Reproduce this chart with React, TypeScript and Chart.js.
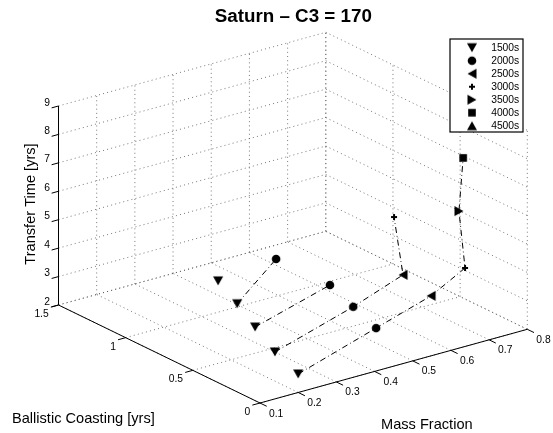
import React, { useEffect, useRef } from "react";
import { Chart, registerables } from "chart.js";

Chart.register(...registerables);

const FONT = '"Liberation Sans", Arial, sans-serif';

// Data: mass fraction, ballistic coasting [yrs], transfer time [yrs] by burn length
const burnLabels = ["1500s", "2000s", "2500s", "3000s", "3500s", "4000s", "4500s"];
const mass1500 = [0.2, 0.227, 0.263, 0.304, 0.342];
const coast1500 = [0, 0.25, 0.5, 0.75, 1];
const time1500 = [2.65, 2.75, 2.92, 3.01, 3.1];
const mass2000 = [0.404, 0.432, 0.459, 0.406];
const coast2000 = [0, 0.25, 0.5, 0.75];
const time2000 = [3.51, 3.58, 3.67, 4.21];
const mass2500 = [0.548, 0.5625];
const coast2500 = [0, 0.25];
const time2500 = [4.11, 4.22];
const mass3000 = [0.637, 0.539];
const coast3000 = [0, 0.25];
const time3000 = [4.76, 6.34];
const mass3500 = [0.621];
const coast3500 = [0];
const time3500 = [6.82];
const mass4000 = [0.632];
const coast4000 = [0];
const time4000 = [8.65];
const mass4500: number[] = [];
const coast4500: number[] = [];
const time4500: number[] = [];

// Axis ticks
const massTicks = [0.1, 0.2, 0.3, 0.4, 0.5, 0.6, 0.7, 0.8];
const coastTicks = [0, 0.5, 1, 1.5];
const timeTicks = [2, 3, 4, 5, 6, 7, 8, 9];
const coastTickLabels = ["0", "0.5", "1", "1.5"];

// Orthographic view of the 3-D box, in canvas units
const project = (x: number, y: number, z: number) => {
  const t = (x - 0.1) / 0.7;
  const k = y / 1.5;
  return {
    x: 260 + t * 267.3 - k * 201.5,
    y: 403 - t * 73.7 - k * 98 - (z - 2) * 28.43,
  };
};

const makeMarker = (kind: string) => {
  const c = document.createElement("canvas");
  c.width = 14;
  c.height = 14;
  const g = c.getContext("2d")!;
  g.fillStyle = "#000";
  g.strokeStyle = "#000";
  const poly = (pts: number[][]) => {
    g.beginPath();
    pts.forEach(([a, b], i) => (i ? g.lineTo(a, b) : g.moveTo(a, b)));
    g.closePath();
    g.fill();
  };
  if (kind === "down") poly([[2, 2.5], [12, 2.5], [7, 11.5]]);
  if (kind === "up") poly([[2, 11.5], [12, 11.5], [7, 2.5]]);
  if (kind === "left") poly([[11.5, 2], [11.5, 12], [2.5, 7]]);
  if (kind === "right") poly([[2.5, 2], [2.5, 12], [11.5, 7]]);
  if (kind === "square") g.fillRect(3.2, 3.2, 7.6, 7.6);
  if (kind === "circle") {
    g.beginPath();
    g.arc(7, 7, 4.3, 0, Math.PI * 2);
    g.fill();
  }
  if (kind === "plus") {
    g.fillRect(4, 6, 6, 2);
    g.fillRect(6, 4, 2, 6);
  }
  return c;
};

const seg = (a: number[], b: number[]) => [
  project(a[0], a[1], a[2]),
  project(b[0], b[1], b[2]),
];

export default function App() {
  const ref = useRef<HTMLCanvasElement>(null);

  useEffect(() => {
    document.body.style.margin = "0";
    const series = [
      { m: mass1500, c: coast1500, t: time1500, s: "down" },
      { m: mass2000, c: coast2000, t: time2000, s: "circle" },
      { m: mass2500, c: coast2500, t: time2500, s: "left" },
      { m: mass3000, c: coast3000, t: time3000, s: "plus" },
      { m: mass3500, c: coast3500, t: time3500, s: "right" },
      { m: mass4000, c: coast4000, t: time4000, s: "square" },
      { m: mass4500, c: coast4500, t: time4500, s: "up" },
    ];

    const markerSets = series.map((s, i) => ({
      label: burnLabels[i],
      data: s.m.map((m, j) => project(m, s.c[j], s.t[j])),
      showLine: false,
      pointStyle: makeMarker(s.s),
      pointRadius: 6,
      order: 0,
    }));

    const lineSets = [0, 0.25, 0.5, 0.75].map((level) => {
      const pts: { x: number; y: number }[] = [];
      series.forEach((s) =>
        s.c.forEach((c, j) => {
          if (c === level) pts.push(project(s.m[j], c, s.t[j]));
        })
      );
      return {
        label: "",
        data: pts,
        showLine: true,
        pointRadius: 0,
        borderColor: "#000",
        borderWidth: 1,
        borderDash: [6, 3, 0.8, 3],
        order: 1,
      };
    });

    const xMax = massTicks[massTicks.length - 1];
    const xMin = massTicks[0];
    const yMax = coastTicks[coastTicks.length - 1];
    const zMin = timeTicks[0];
    const zMax = timeTicks[timeTicks.length - 1];

    const gridSegs: { x: number; y: number }[][] = [];
    massTicks.forEach((m) => {
      gridSegs.push(seg([m, 0, zMin], [m, yMax, zMin]));
      gridSegs.push(seg([m, yMax, zMin], [m, yMax, zMax]));
    });
    coastTicks.forEach((c) => {
      gridSegs.push(seg([xMin, c, zMin], [xMax, c, zMin]));
      gridSegs.push(seg([xMax, c, zMin], [xMax, c, zMax]));
    });
    timeTicks.forEach((t) => {
      gridSegs.push(seg([xMin, yMax, t], [xMax, yMax, t]));
      gridSegs.push(seg([xMax, yMax, t], [xMax, 0, t]));
    });
    const gridSets = gridSegs.map((d) => ({
      label: "",
      data: d,
      showLine: true,
      pointRadius: 0,
      borderColor: "#555",
      borderWidth: 0.8,
      borderDash: [1, 3.2],
      order: 3,
    }));

    const axisSegs: { x: number; y: number }[][] = [
      seg([xMin, 0, zMin], [xMax, 0, zMin]),
      seg([xMin, 0, zMin], [xMin, yMax, zMin]),
      seg([xMin, yMax, zMin], [xMin, yMax, zMax]),
    ];
    massTicks.forEach((m) => axisSegs.push(seg([m, 0, zMin], [m, -0.05, zMin])));
    coastTicks.forEach((c) => axisSegs.push(seg([xMin, c, zMin], [xMin - 0.02, c, zMin])));
    timeTicks.forEach((t) => axisSegs.push(seg([xMin, yMax, t], [xMin - 0.018, yMax, t])));
    const axisSets = axisSegs.map((d) => ({
      label: "",
      data: d,
      showLine: true,
      pointRadius: 0,
      borderColor: "#000",
      borderWidth: 1,
      order: 2,
    }));

    const textPlugin = {
      id: "boxText",
      afterLayout(chart: any) {
        const l = chart.legend;
        if (l) {
          l.left = 455.3;
          l.right = 523;
          l.top = 39.85;
          l.bottom = 433;
        }
      },
      afterDatasetsDraw(chart: any) {
        const g = chart.ctx;
        g.save();
        // Legend box sits above the grid
        g.fillStyle = "#fff";
        g.fillRect(450, 39, 73, 93);
        g.strokeStyle = "#000";
        g.lineWidth = 1.2;
        g.strokeRect(450, 39, 73, 93);
        chart.legend.draw(chart.chartArea);

        g.fillStyle = "#000";
        g.textBaseline = "middle";
        g.font = `10.3px ${FONT}`;
        g.textAlign = "left";
        massTicks.forEach((m) => {
          const p = project(m, 0, zMin);
          g.fillText(m.toFixed(1), p.x + 9, p.y + 10.7);
        });
        g.textAlign = "right";
        coastTicks.forEach((c, i) => {
          const p = project(xMin, c, zMin);
          g.fillText(coastTickLabels[i], p.x - 9.8, p.y + 9.3);
        });
        g.textAlign = "center";
        timeTicks.forEach((t) => {
          const p = project(xMin, yMax, t);
          g.fillText(String(t), 47, p.y - 3.3);
        });

        g.font = `bold 18.8px ${FONT}`;
        g.fillText("Saturn \u2013 C3 = 170", 293.3, 16.7);
        g.font = `14.6px ${FONT}`;
        g.textAlign = "left";
        g.fillText("Ballistic Coasting [yrs]", 12, 419);
        g.fillText("Mass Fraction", 381, 424.7);
        g.translate(31, 204);
        g.rotate(-Math.PI / 2);
        g.textAlign = "center";
        g.fillText("Transfer Time [yrs]", 0, 0);
        g.restore();
      },
    };

    const chart = new Chart(ref.current!, {
      type: "scatter",
      data: { datasets: [...markerSets, ...lineSets, ...axisSets, ...gridSets] as any },
      options: {
        animation: false,
        responsive: false,
        events: [],
        layout: { padding: 0, autoPadding: false },
        scales: {
          x: { type: "linear", min: 0, max: 553, display: false },
          y: { type: "linear", min: 0, max: 433, reverse: true, display: false },
        },
        plugins: {
          tooltip: { enabled: false },
          title: { display: false },
          legend: {
            display: true,
            position: "chartArea",
            align: "start",
            labels: {
              usePointStyle: true,
              pointStyleWidth: 28,
              boxHeight: 7,
              padding: 2.7,
              color: "#000",
              font: { family: FONT, size: 10.3 },
              filter: (item: any) => !!item.text,
            },
          },
        },
      } as any,
      plugins: [textPlugin],
    });
    return () => chart.destroy();
  }, []);

  return <canvas ref={ref} width={553} height={433} style={{ display: "block", width: 553, height: 433 }} />;
}
